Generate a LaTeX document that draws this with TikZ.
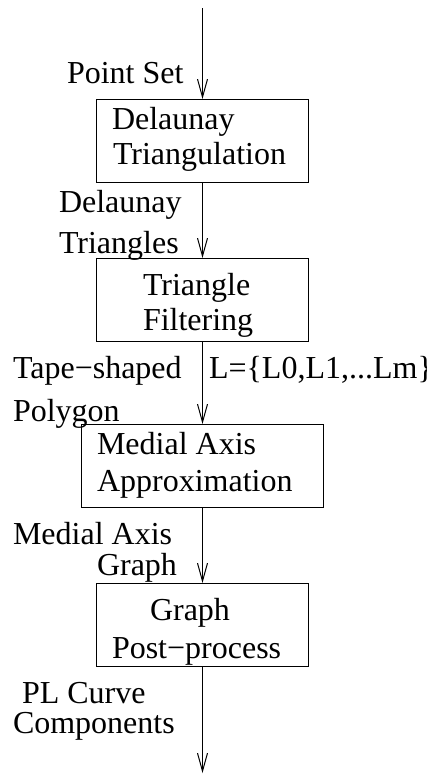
\documentclass[tikz,border=0pt]{standalone}
\usepackage{fontspec}
\setmainfont{Liberation Serif}
\usetikzlibrary{arrows.meta}
\begin{document}
\begin{tikzpicture}[x={(1pt,0)}, y={(0,-1pt)},
  every node/.style={font=\fontsize{32}{36}\selectfont, inner sep=0pt, outer sep=0pt},
  stage/.style={draw, line width=1pt, minimum height=83pt, minimum width=212pt},
  txt/.style={anchor=base west},
  flow/.style={line width=1pt, -{Straight Barb[length=18pt, width=10pt, line width=1pt]}}]
  \useasboundingbox (0,0) rectangle (427,774);

  % processing stages
  \node[stage] (dt) at (202.5,140.5) {};
  \node[stage] (tf) at (202.5,299.5) {};
  \node[stage, minimum width=241.5pt] (ma) at (202.5,465.5) {};
  \node[stage] (gp) at (202.5,624.5) {};

  % stage captions
  \node[txt] (dt1) at (112,129) {Delaunay};
  \node[txt] (dt2) at (113,164) {Triangulation};
  \node[txt] (tf1) at (143,295) {Triangle};
  \node[txt] (tf2) at (143,330) {Filtering};
  \node[txt] (ma1) at (97,454) {Medial Axis};
  \node[txt] (ma2) at (97,491) {Approximation};
  \node[txt] (gp1) at (150,620) {Graph};
  \node[txt] (gp2) at (112,658) {Post−process};

  % data passed between stages
  \node[txt] (in1) at (67,83) {Point Set};
  \node[txt] (d1) at (59,212) {Delaunay};
  \node[txt] (d2) at (59,253) {Triangles};
  \node[txt] (p1) at (13,378) {Tape−shaped};
  \node[txt] (p2) at (13,421) {Polygon};
  \node[txt] (lset) at (209,378) {L=\{L0,L1,...Lm\}};
  \node[txt] (g1) at (13,544) {Medial Axis};
  \node[txt] (g2) at (97,575) {Graph};
  \node[txt] (o1) at (22,703) {PL Curve};
  \node[txt] (o2) at (13,733) {Components};

  % flow
  \coordinate (src) at (202.5,8);
  \coordinate (sink) at (202.5,773);
  \draw[flow] (src) -- (dt.north);
  \draw[flow] (dt.south) -- (tf.north);
  \draw[flow] (tf.south) -- (ma.north);
  \draw[flow] (ma.south) -- (gp.north);
  \draw[flow] (gp.south) -- (sink);
\end{tikzpicture}
\end{document}
